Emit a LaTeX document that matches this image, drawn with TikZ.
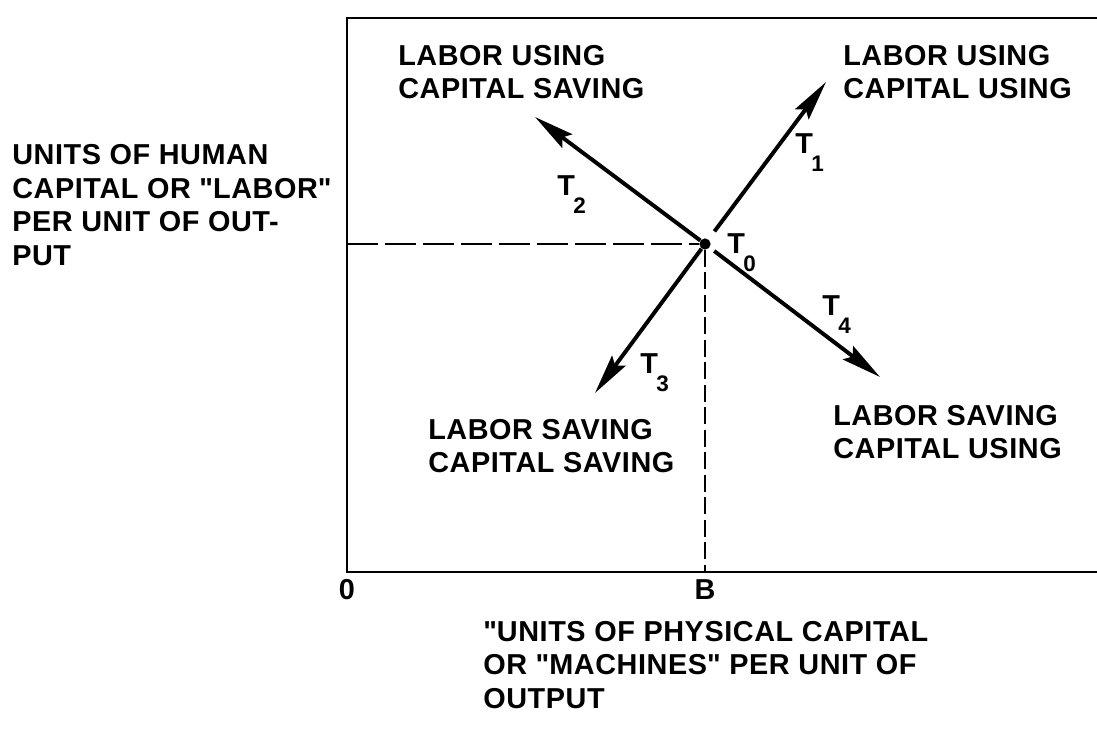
\documentclass[tikz,border=0pt]{standalone}
\usepackage{fontspec}
\setmainfont{Liberation Sans}[LetterSpace=2]
\usetikzlibrary{arrows.meta,positioning}

% T with a dropped index, as printed on the vectors
\newcommand{\tvec}[1]{T\kern-1pt\raisebox{-13.5pt}{\fontsize{16}{16}\selectfont #1}}
\newcommand{\sq}{\textquotedbl}

\begin{document}
\begin{tikzpicture}[
  x=0.025cm, y=-0.025cm,
  lbl/.style={align=left, anchor=west, inner sep=0pt,
              font=\fontsize{20.5}{24}\selectfont\bfseries},
  tlbl/.style={inner sep=0pt, anchor=base west,
               font=\fontsize{20.5}{24}\selectfont\bfseries},
  vec/.style={-{Stealth[length=10mm, width=4.2mm, inset=1.5mm]}, line width=2.8pt},
  guide/.style={line width=1.8pt, dash pattern=on 22pt off 5pt},
  frame/.style={line width=2pt}
]
\useasboundingbox (0,0) rectangle (1097,732);

% frame, open on the right
\coordinate (tr) at (1097,18);
\coordinate (tl) at (347,18);
\coordinate (orig) at (347,572);
\coordinate (br) at (1097,572);
\draw[frame] (tr) -- (tl) -- (orig) -- (br);

% starting technique and its guide lines
\node[circle, fill, inner sep=0pt, minimum size=8pt] (t0) at (705,244) {};
\coordinate (yk) at (tl |- t0);
\coordinate (xk) at (t0 |- orig);
\draw[guide] (yk) -- (t0);
\draw[guide, dash pattern=on 12pt off 4pt] (t0) -- (xk);

% the four directions of change
\coordinate (t1tip) at (826,82);
\coordinate (t2tip) at (535,117);
\coordinate (t3tip) at (595,393);
\coordinate (t4tip) at (880,377);
\draw[vec, shorten <=7pt] (t0) -- (t1tip);
\draw[vec] (t0) -- (t2tip);
\draw[vec] (t0) -- (t3tip);
\draw[vec, shorten <=4pt] (t0) -- (t4tip);

\node[tlbl] (l0) at (727,253) {\tvec{0}};
\node[tlbl] (l1) at (795,153) {\tvec{1}};
\node[tlbl] (l2) at (557,195) {\tvec{2}};
\node[tlbl] (l3) at (640,373) {\tvec{3}};
\node[tlbl] (l4) at (822,315) {\tvec{4}};

% quadrant names
\node[lbl] (usesave) at (398,72) {LABOR USING\\CAPITAL SAVING};
\node[lbl] (useuse) at (843,72) {LABOR USING\\CAPITAL USING};
\node[lbl] (saveuse) at (833,432) {LABOR SAVING\\CAPITAL USING};
\node[lbl] (savesave) at (428,446) {LABOR SAVING\\CAPITAL SAVING};

% axes
\node[lbl] (ylab) at (12,205) {UNITS OF HUMAN\\CAPITAL OR \sq LABOR\sq\\PER UNIT OF OUT-\\PUT};
\node[tlbl, anchor=north, below=5pt of orig] (zero) {0};
\node[tlbl, anchor=north, below=5pt of xk] (xb) {B};
\node[lbl] (xlab) at (483,665) {\sq UNITS OF PHYSICAL CAPITAL\\OR \sq MACHINES\sq{} PER UNIT OF\\OUTPUT};
\end{tikzpicture}
\end{document}
